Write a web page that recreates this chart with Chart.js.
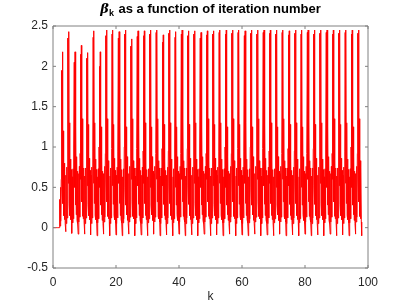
<!DOCTYPE html>
<html>
<head>
<meta charset="utf-8">
<script src="https://cdn.jsdelivr.net/npm/chart.js@4/dist/chart.umd.min.js"></script>
<style>
  html, body { margin: 0; padding: 0; background: #fff; }
</style>
</head>
<body>
<canvas id="chart" width="407" height="305"></canvas>
<script>
// beta_k sampled every 0.125 of k, one array per ten units of k (one row = 2 units)
const k_step = 0.125;

const beta_0_10 = [
  0, 0, 0, 0, 0, 0, 0, 0, 0, 0, 0, 0, 0, 0, 0, 0,
  0, 0.35, 0.02, 0.5, 0.08, 0.6, 1.95, 0.5, 2.18, 0.3, 1.2, 0.15, 0.8, 0.1, 0.7, 0.05,
  -0.05, 0.65, 0.05, 0.75, 0.12, 0.95, 2.35, 0.55, 2.43, 0.3, 1.3, 0.15, 0.85, 0.1, 0.72, 0.06,
  -0.07, 0.63, 0.06, 0.73, 0.11, 1.0, 2.05, 0.5, 2.18, 0.28, 1.25, 0.16, 0.88, 0.09, 0.7, 0.05,
  -0.08, 0.67, 0.07, 0.76, 0.13, 0.92, 2.15, 0.6, 2.26, 0.32, 1.35, 0.14, 0.83, 0.11, 0.74, 0.07,
];
const beta_10_20 = [
  -0.08, 0.64, 0.05, 0.74, 0.12, 0.98, 2.1, 0.52, 2.17, 0.29, 1.28, 0.15, 0.86, 0.1, 0.71, 0.06,
  -0.09, 0.65, 0.05, 0.75, 0.12, 0.95, 2.36, 0.55, 2.44, 0.3, 1.3, 0.15, 0.85, 0.1, 0.72, 0.06,
  -0.1, 0.63, 0.06, 0.73, 0.11, 1.0, 2.0, 0.5, 2.18, 0.28, 1.25, 0.16, 0.88, 0.09, 0.7, 0.05,
  -0.08, 0.67, 0.07, 0.76, 0.13, 0.92, 2.38, 0.6, 2.45, 0.32, 1.35, 0.14, 0.83, 0.11, 0.74, 0.07,
  -0.1, 0.64, 0.05, 0.74, 0.12, 0.98, 2.4, 0.52, 2.45, 0.29, 1.28, 0.15, 0.86, 0.1, 0.71, 0.06,
];
const beta_20_30 = [
  -0.09, 0.65, 0.05, 0.75, 0.12, 0.95, 2.35, 0.55, 2.43, 0.3, 1.3, 0.15, 0.85, 0.1, 0.72, 0.06,
  -0.1, 0.63, 0.06, 0.73, 0.11, 1.0, 2.4, 0.5, 2.45, 0.28, 1.25, 0.16, 0.88, 0.09, 0.7, 0.05,
  -0.08, 0.67, 0.07, 0.76, 0.13, 0.92, 2.25, 0.6, 2.34, 0.32, 1.35, 0.14, 0.83, 0.11, 0.74, 0.07,
  -0.1, 0.64, 0.05, 0.74, 0.12, 0.98, 2.37, 0.52, 2.44, 0.29, 1.28, 0.15, 0.86, 0.1, 0.71, 0.06,
  -0.09, 0.65, 0.05, 0.75, 0.12, 0.95, 2.38, 0.55, 2.44, 0.3, 1.3, 0.15, 0.85, 0.1, 0.72, 0.06,
];
const beta_30_40 = [
  -0.1, 0.63, 0.06, 0.73, 0.11, 1.0, 2.4, 0.5, 2.45, 0.28, 1.25, 0.16, 0.88, 0.09, 0.7, 0.05,
  -0.08, 0.67, 0.07, 0.76, 0.13, 0.92, 2.42, 0.6, 2.45, 0.32, 1.35, 0.14, 0.83, 0.11, 0.74, 0.07,
  -0.1, 0.64, 0.05, 0.74, 0.12, 0.98, 2.3, 0.52, 2.39, 0.29, 1.28, 0.15, 0.86, 0.1, 0.71, 0.06,
  -0.09, 0.65, 0.05, 0.75, 0.12, 0.95, 2.41, 0.55, 2.45, 0.3, 1.3, 0.15, 0.85, 0.1, 0.72, 0.06,
  -0.1, 0.63, 0.06, 0.73, 0.11, 1.0, 2.36, 0.5, 2.43, 0.28, 1.25, 0.16, 0.88, 0.09, 0.7, 0.05,
];
const beta_40_50 = [
  -0.08, 0.67, 0.07, 0.76, 0.13, 0.92, 2.4, 0.6, 2.45, 0.32, 1.35, 0.14, 0.83, 0.11, 0.74, 0.07,
  -0.1, 0.64, 0.05, 0.74, 0.12, 0.98, 2.38, 0.52, 2.44, 0.29, 1.28, 0.15, 0.86, 0.1, 0.71, 0.06,
  -0.09, 0.65, 0.05, 0.75, 0.12, 0.95, 2.4, 0.55, 2.44, 0.3, 1.3, 0.15, 0.85, 0.1, 0.72, 0.06,
  -0.1, 0.63, 0.06, 0.73, 0.11, 1.0, 2.35, 0.5, 2.42, 0.28, 1.25, 0.16, 0.88, 0.09, 0.7, 0.05,
  -0.08, 0.67, 0.07, 0.76, 0.13, 0.92, 2.39, 0.6, 2.44, 0.32, 1.35, 0.14, 0.83, 0.11, 0.74, 0.07,
];
const beta_50_60 = [
  -0.1, 0.64, 0.05, 0.74, 0.12, 0.98, 2.4, 0.52, 2.44, 0.29, 1.28, 0.15, 0.86, 0.1, 0.71, 0.06,
  -0.09, 0.65, 0.05, 0.75, 0.12, 0.95, 2.42, 0.55, 2.45, 0.3, 1.3, 0.15, 0.85, 0.1, 0.72, 0.06,
  -0.1, 0.63, 0.06, 0.73, 0.11, 1.0, 2.4, 0.5, 2.45, 0.28, 1.25, 0.16, 0.88, 0.09, 0.7, 0.05,
  -0.08, 0.67, 0.07, 0.76, 0.13, 0.92, 2.41, 0.6, 2.45, 0.32, 1.35, 0.14, 0.83, 0.11, 0.74, 0.07,
  -0.1, 0.64, 0.05, 0.74, 0.12, 0.98, 2.42, 0.52, 2.45, 0.29, 1.28, 0.15, 0.86, 0.1, 0.71, 0.06,
];
const beta_60_70 = [
  -0.09, 0.65, 0.05, 0.75, 0.12, 0.95, 2.38, 0.55, 2.44, 0.3, 1.3, 0.15, 0.85, 0.1, 0.72, 0.06,
  -0.1, 0.63, 0.06, 0.73, 0.11, 1.0, 2.41, 0.5, 2.45, 0.28, 1.25, 0.16, 0.88, 0.09, 0.7, 0.05,
  -0.08, 0.67, 0.07, 0.76, 0.13, 0.92, 2.4, 0.6, 2.45, 0.32, 1.35, 0.14, 0.83, 0.11, 0.74, 0.07,
  -0.1, 0.64, 0.05, 0.74, 0.12, 0.98, 2.42, 0.52, 2.45, 0.29, 1.28, 0.15, 0.86, 0.1, 0.71, 0.06,
  -0.09, 0.65, 0.05, 0.75, 0.12, 0.95, 2.41, 0.55, 2.45, 0.3, 1.3, 0.15, 0.85, 0.1, 0.72, 0.06,
];
const beta_70_80 = [
  -0.1, 0.63, 0.06, 0.73, 0.11, 1.0, 2.4, 0.5, 2.45, 0.28, 1.25, 0.16, 0.88, 0.09, 0.7, 0.05,
  -0.08, 0.67, 0.07, 0.76, 0.13, 0.92, 2.42, 0.6, 2.45, 0.32, 1.35, 0.14, 0.83, 0.11, 0.74, 0.07,
  -0.1, 0.64, 0.05, 0.74, 0.12, 0.98, 2.39, 0.52, 2.44, 0.29, 1.28, 0.15, 0.86, 0.1, 0.71, 0.06,
  -0.09, 0.65, 0.05, 0.75, 0.12, 0.95, 2.41, 0.55, 2.45, 0.3, 1.3, 0.15, 0.85, 0.1, 0.72, 0.06,
  -0.1, 0.63, 0.06, 0.73, 0.11, 1.0, 2.4, 0.5, 2.45, 0.28, 1.25, 0.16, 0.88, 0.09, 0.7, 0.05,
];
const beta_80_90 = [
  -0.08, 0.67, 0.07, 0.76, 0.13, 0.92, 2.42, 0.6, 2.45, 0.32, 1.35, 0.14, 0.83, 0.11, 0.74, 0.07,
  -0.1, 0.64, 0.05, 0.74, 0.12, 0.98, 2.4, 0.52, 2.45, 0.29, 1.28, 0.15, 0.86, 0.1, 0.71, 0.06,
  -0.09, 0.65, 0.05, 0.75, 0.12, 0.95, 2.41, 0.55, 2.45, 0.3, 1.3, 0.15, 0.85, 0.1, 0.72, 0.06,
  -0.1, 0.63, 0.06, 0.73, 0.11, 1.0, 2.42, 0.5, 2.45, 0.28, 1.25, 0.16, 0.88, 0.09, 0.7, 0.05,
  -0.08, 0.67, 0.07, 0.76, 0.13, 0.92, 2.4, 0.6, 2.45, 0.32, 1.35, 0.14, 0.83, 0.11, 0.74, 0.07,
];
const beta_90_98 = [
  -0.1, 0.64, 0.05, 0.74, 0.12, 0.98, 2.41, 0.52, 2.45, 0.29, 1.28, 0.15, 0.86, 0.1, 0.71, 0.06,
  -0.09, 0.65, 0.05, 0.75, 0.12, 0.95, 2.42, 0.55, 2.45, 0.3, 1.3, 0.15, 0.85, 0.1, 0.72, 0.06,
  -0.1, 0.63, 0.06, 0.73, 0.11, 1.0, 2.4, 0.5, 2.45, 0.28, 1.25, 0.16, 0.88, 0.09, 0.7, 0.05,
  -0.08, 0.67, 0.07, 0.76, 0.13, 0.92, 2.41, 0.6, 2.45, 0.32, 1.35, 0.14, 0.83, 0.11, 0.74, 0.07,
  -0.1,
];

const x_ticks = [0, 20, 40, 60, 80, 100];
const y_ticks = [-0.5, 0, 0.5, 1, 1.5, 2, 2.5];

const beta = [].concat(beta_0_10, beta_10_20, beta_20_30, beta_30_40, beta_40_50,
  beta_50_60, beta_60_70, beta_70_80, beta_80_90, beta_90_98);
const points = beta.map((v, i) => ({ x: i * k_step, y: v }));

const font_name = "'Liberation Sans', Arial, Helvetica, sans-serif";
const text_color = '#262626';

// box around the axes with ticks pointing inward, like matlab
const matlab_box = {
  id: 'matlab_box',
  afterDatasetsDraw(chart) {
    const { ctx, chartArea: { left, right, top, bottom }, scales: { x, y } } = chart;
    ctx.save();
    ctx.strokeStyle = '#808080';
    ctx.lineWidth = 1;
    ctx.beginPath();
    ctx.rect(left, top, right - left, bottom - top);
    for (const v of x_ticks) {
      const px = x.getPixelForValue(v);
      ctx.moveTo(px, bottom); ctx.lineTo(px, bottom - 3);
      ctx.moveTo(px, top); ctx.lineTo(px, top + 3);
    }
    for (const v of y_ticks) {
      const py = y.getPixelForValue(v);
      ctx.moveTo(left, py); ctx.lineTo(left + 3, py);
      ctx.moveTo(right, py); ctx.lineTo(right - 3, py);
    }
    ctx.stroke();
    ctx.restore();
  }
};

// title with a greek beta and a subscript k
const beta_title = {
  id: 'beta_title',
  afterDraw(chart) {
    const { ctx, chartArea: { left, right } } = chart;
    const main_font = `bold 13px ${font_name}`;
    const greek_font = `italic bold 13px 'DejaVu Serif', serif`;
    const sub_font = `bold 9px ${font_name}`;
    const rest = ' as a function of iteration number';
    ctx.save();
    ctx.fillStyle = '#000';
    ctx.textBaseline = 'alphabetic';
    ctx.font = greek_font; const w1 = ctx.measureText('\u03b2').width;
    ctx.font = sub_font; const w2 = ctx.measureText('k').width + 1;
    ctx.font = main_font; const w3 = ctx.measureText(rest).width;
    let x0 = (left + right) / 2 - (w1 + w2 + w3) / 2;
    const base = 13;
    ctx.textAlign = 'left';
    ctx.font = greek_font; ctx.fillText('\u03b2', x0, base);
    ctx.font = sub_font; ctx.fillText('k', x0 + w1, base + 3);
    ctx.font = main_font; ctx.fillText(rest, x0 + w1 + w2, base);
    ctx.restore();
  }
};

const ctx = document.getElementById('chart').getContext('2d');
const chart = new Chart(ctx, {
  type: 'line',
  data: {
    datasets: [{
      data: points,
      borderColor: '#ff0000',
      borderWidth: 1,
      pointRadius: 0,
      tension: 0,
      fill: false,
    }]
  },
  options: {
    responsive: false,
    animation: false,
    layout: { padding: { left: 0, top: 26, right: 39, bottom: 0 } },
    plugins: {
      legend: { display: false },
      tooltip: { enabled: false },
    },
    scales: {
      x: {
        type: 'linear',
        min: 0,
        max: 100,
        grid: { display: false, drawTicks: false },
        border: { display: false },
        ticks: {
          stepSize: 20,
          padding: 7,
          color: text_color,
          font: { family: font_name, size: 12 },
          maxRotation: 0,
        },
        title: {
          display: true,
          text: 'k',
          color: text_color,
          font: { family: font_name, size: 12 },
          padding: { top: 0, bottom: 1 },
        },
        afterFit: (scale) => { scale.height = 37; },
      },
      y: {
        min: -0.5,
        max: 2.5,
        grid: { display: false, drawTicks: false },
        border: { display: false },
        ticks: {
          stepSize: 0.5,
          padding: 5,
          color: text_color,
          font: { family: font_name, size: 12 },
          callback: (v) => String(v),
        },
        afterFit: (scale) => { scale.width = 53; },
      }
    }
  },
  plugins: [matlab_box, beta_title],
});
</script>
</body>
</html>
